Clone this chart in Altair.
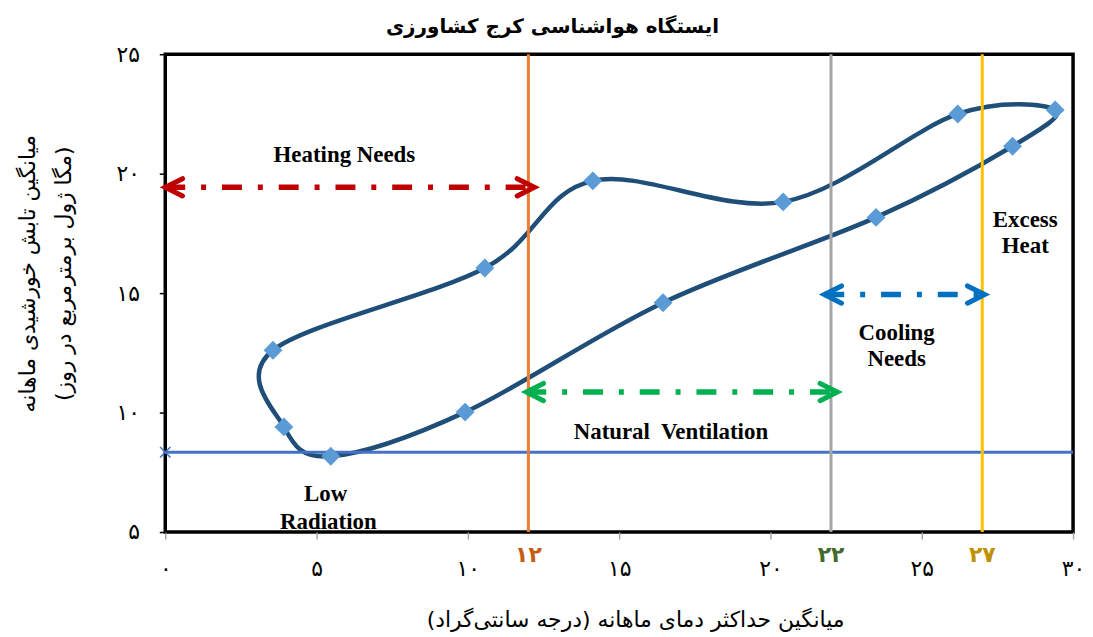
import json
import altair as alt
import pandas as pd

# ---------------- data ----------------
# Monthly loop: mean maximum temperature (deg C) vs mean solar radiation (MJ/m2/day)
loop_temp = [3.56, 10.56, 14.13, 20.42, 26.19, 29.41, 28.00, 23.49, 16.45, 9.91, 5.47, 3.92]
loop_rad = [12.61, 16.05, 19.70, 18.82, 22.50, 22.67, 21.15, 18.17, 14.60, 10.02, 8.17, 9.40]

# Threshold lines
vline_x = [12, 22, 27]
vline_colors = ["#ED7D31", "#A5A5A5", "#FFC000"]
vline_labels = ["۱۲", "۲۲", "۲۷"]
vline_label_colors = ["#C55A11", "#426A2A", "#BF9000"]
vline_label_y = [4.05, 4.05, 4.05]
low_rad_level = 8.34

# Double-headed arrows
arrow_x1 = [0.0, 11.93, 21.78]
arrow_x2 = [12.2, 22.21, 27.08]
arrow_y = [19.43, 10.86, 14.94]
arrow_colors = ["#C00000", "#00B050", "#0070C0"]

# Annotation texts
note_text = ["Heating Needs", "Natural\u00a0 Ventilation", "Cooling", "Needs",
             "Excess", "Heat", "Low", "Radiation"]
note_x = [5.92, 16.71, 24.17, 24.17, 28.42, 28.42, 5.30, 5.39]
note_y = [20.76, 9.18, 13.35, 12.26, 18.05, 16.98, 6.60, 5.43]

# Axes
x_ticks = [0, 5, 10, 15, 20, 25, 30]
x_tick_labels = ["۰", "۵", "۱۰", "۱۵", "۲۰", "۲۵", "۳۰"]
y_ticks = [5, 10, 15, 20, 25]
y_tick_labels = ["۵", "۱۰", "۱۵", "۲۰", "۲۵"]

chart_title = "ایستگاه هواشناسی کرج کشاورزی"
x_title = "\u200fمیانگین حداکثر دمای ماهانه (درجه سانتی\u200cگراد)\u200f"
y_title = ["\u200fمیانگین تابش خورشیدی ماهانه\u200f", "\u200f(مگا ژول برمترمربع در روز)\u200f"]

# ---------------- tables ----------------
loop_df = pd.DataFrame({"x": loop_temp, "y": loop_rad, "order": list(range(len(loop_temp)))})
hline_df = pd.DataFrame({"x": [x_ticks[0]], "x2": [x_ticks[-1]], "y": [low_rad_level]})
vline_df = pd.DataFrame({"x": vline_x, "y": [y_ticks[0]] * 3, "y2": [y_ticks[-1]] * 3,
                         "color": vline_colors})
vlab_df = pd.DataFrame({"x": vline_x, "y": vline_label_y, "text": vline_labels,
                        "color": vline_label_colors})
arrow_df = pd.DataFrame({"x": arrow_x1, "x2": arrow_x2, "y": arrow_y, "color": arrow_colors})
LEFT_HEAD = "M2,-1L0,0L2,1"
RIGHT_HEAD = "M-2,-1L0,0L-2,1"
heads_df = pd.DataFrame({
    "x": arrow_x1 + arrow_x2,
    "y": arrow_y + arrow_y,
    "shape": [LEFT_HEAD] * 3 + [RIGHT_HEAD] * 3,
    "color": arrow_colors + arrow_colors,
})
notes_df = pd.DataFrame({"x": note_x, "y": note_y, "text": note_text})

# ---------------- scales & axes ----------------
xs = alt.Scale(domain=[x_ticks[0], x_ticks[-1]], nice=False, zero=False)
ys = alt.Scale(domain=[y_ticks[0], y_ticks[-1]], nice=False, zero=False)

x_expr = f"{json.dumps(x_tick_labels, ensure_ascii=False)}[indexof({json.dumps(x_ticks)}, datum.value)]"
y_expr = f"{json.dumps(y_tick_labels, ensure_ascii=False)}[indexof({json.dumps(y_ticks)}, datum.value)]"

xaxis = alt.Axis(
    values=x_ticks, labelExpr=x_expr, labelFont="DejaVu Sans", labelFontSize=22,
    labelColor="black", labelPadding=20, labelFlush=False, labelOverlap=False,
    tickColor="#A6A6A6", tickSize=7, tickWidth=1.5, domain=False, grid=False,
    title=x_title, titleFont="DejaVu Sans", titleFontSize=22, titleFontWeight="normal",
    titleColor="black", titleX=472, titleY=88, titleBaseline="middle", titleAlign="center",
)
yaxis = alt.Axis(
    values=y_ticks, labelExpr=y_expr, labelFont="DejaVu Sans", labelFontSize=22,
    labelColor="black", labelPadding=20, labelFlush=False, labelOverlap=False,
    tickColor="black", tickSize=6, tickWidth=1.5, domain=False, grid=False,
    title=y_title, titleFont="DejaVu Sans", titleFontSize=22, titleFontWeight="normal",
    titleColor="black", titleAngle=270, titleX=-138, titleY=220, titleBaseline="middle",
    titleAlign="center", titleLineHeight=36,
)


def X(field="x"):
    return alt.X(f"{field}:Q", scale=xs, axis=xaxis)


def Y(field="y"):
    return alt.Y(f"{field}:Q", scale=ys, axis=yaxis)


# ---------------- layers ----------------
curve = alt.Chart(loop_df).mark_line(
    interpolate="cardinal-closed", color="#1F4E79", strokeWidth=4.5
).encode(x=X(), y=Y(), order="order:Q")

hline = alt.Chart(hline_df).mark_rule(color="#4472C4", strokeWidth=3).encode(
    x=X(), x2="x2:Q", y=Y())
hmarker = alt.Chart(hline_df).mark_point(
    shape="M-1,-1L1,1M-1,1L1,-1", size=110, strokeWidth=1.5, color="#4472C4",
    filled=False, opacity=1).encode(x=X(), y=Y())

vlines = alt.Chart(vline_df).mark_rule(strokeWidth=3).encode(
    x=X(), y=Y(), y2="y2:Q", color=alt.Color("color:N", scale=None))

vlabels = alt.Chart(vlab_df).mark_text(
    font="DejaVu Sans", fontSize=22, fontWeight="bold", baseline="middle").encode(
    x=X(), y=Y(), text="text:N", color=alt.Color("color:N", scale=None))

diamonds = alt.Chart(loop_df).mark_point(
    shape="diamond", filled=True, size=360, color="#5B9BD5", opacity=1).encode(x=X(), y=Y())

shafts = alt.Chart(arrow_df).mark_rule(strokeWidth=5.5, strokeDash=[20, 16, 5, 16]).encode(
    x=X(), x2="x2:Q", y=Y(), color=alt.Color("color:N", scale=None))

heads = alt.Chart(heads_df).mark_point(
    filled=False, size=300, strokeWidth=5, opacity=1, strokeCap="round").encode(
    x=X(), y=Y(), shape=alt.Shape("shape:N", scale=None),
    color=alt.Color("color:N", scale=None))

notes = alt.Chart(notes_df).mark_text(
    font="Liberation Serif", fontSize=23, fontWeight="bold", color="black",
    baseline="middle").encode(x=X(), y=Y(), text="text:N")

chart = alt.layer(
    curve, hline, hmarker, vlines, diamonds, shafts, heads, notes, vlabels
).properties(
    width=912, height=480,
    autosize=alt.AutoSizeParams(type="none"),
    padding={"left": 158, "top": 45, "right": 12, "bottom": 102},
    title=alt.TitleParams(chart_title, font="DejaVu Sans", fontSize=20, fontWeight="bold",
                          color="black", dx=-67, offset=6),
).configure(background="white").configure_view(stroke="black", strokeWidth=3.5)

chart.save("out.html", embed_options={"renderer": "svg", "actions": False})
